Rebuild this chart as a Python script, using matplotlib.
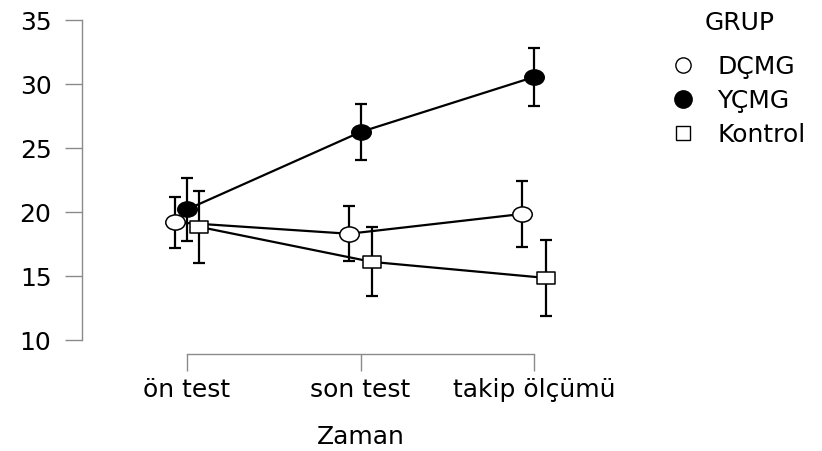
import numpy as np
import matplotlib
matplotlib.use("Agg")
import matplotlib.pyplot as plt
from matplotlib.path import Path
from matplotlib.transforms import Affine2D
from matplotlib.lines import Line2D

plt.rcParams['font.family'] = ['DejaVu Sans']

times = ['ön test', 'son test', 'takip ölçümü']
groups = ['DÇMG', 'YÇMG', 'Kontrol']

dcmg_mean = [19.2, 18.3, 19.85]
dcmg_err = [2.0, 2.15, 2.55]
ycmg_mean = [20.2, 26.25, 30.55]
ycmg_err = [2.45, 2.2, 2.3]
kontrol_mean = [18.85, 16.1, 14.85]
kontrol_err = [2.8, 2.7, 2.95]

y_ticks = [10, 15, 20, 25, 30, 35]

W, H = 822, 451
fig = plt.figure(figsize=(W / 100, H / 100), dpi=100)
left, right, bottom, top = 82, 640, 354, 10
ax = fig.add_axes([left / W, 1 - bottom / H, (right - left) / W, (bottom - top) / H])

ellipse = Path.unit_circle().transformed(Affine2D().scale(1.0, 0.78))
rect = Path.unit_rectangle().transformed(Affine2D().translate(-0.5, -0.5).scale(1.0, 0.72))

series = [
    (dcmg_mean, dcmg_err, ellipse, 'white', -0.067, 14),
    (ycmg_mean, ycmg_err, ellipse, 'black', 0.0, 14),
    (kontrol_mean, kontrol_err, rect, 'white', 0.067, 12.5),
]
x = np.arange(len(times))
for i, (m, e, mk, fc, off, ms) in enumerate(series):
    xs = x + off
    ax.errorbar(xs, m, yerr=e, fmt='none', ecolor='black', elinewidth=1.6,
                capsize=4, capthick=1.6, zorder=2)
    ax.plot(xs, m, color='black', lw=1.6, zorder=3)
    ax.plot(xs, m, linestyle='none', marker=mk, markersize=ms, markerfacecolor=fc,
            markeredgecolor='black', markeredgewidth=1.1, zorder=4 + i)

ax.set_xlim(-0.605, 2.61)
ax.set_ylim(35 - (bottom - 20) / 12.8, 35 + (20 - top) / 12.8)
ax.set_xticks(x)
ax.set_xticklabels(times)
ax.set_yticks(y_ticks)
for s in ['top', 'right']:
    ax.spines[s].set_visible(False)
grey = '#8a8a8a'
ax.spines['left'].set_bounds(10, 35)
ax.spines['bottom'].set_bounds(0, 2)
for s in ['left', 'bottom']:
    ax.spines[s].set_color(grey)
    ax.spines[s].set_linewidth(1.0)
ax.tick_params(axis='y', length=12, width=1.0, color=grey, labelsize=18, pad=10)
ax.tick_params(axis='x', length=12, width=1.0, color=grey, labelsize=18, pad=5)
ax.set_xlabel('Zaman', fontsize=18, labelpad=17)
ax.patch.set_visible(False)

handles = [
    Line2D([], [], linestyle='none', marker='o', markersize=11, markerfacecolor='white',
           markeredgecolor='black', markeredgewidth=1.0),
    Line2D([], [], linestyle='none', marker='o', markersize=12.5, markerfacecolor='black',
           markeredgecolor='black', markeredgewidth=1.0),
    Line2D([], [], linestyle='none', marker='s', markersize=10, markerfacecolor='white',
           markeredgecolor='black', markeredgewidth=1.0),
]
leg = fig.legend(handles, groups, loc='upper left',
                 bbox_to_anchor=(670.5 / W, 1 - 55 / H), frameon=False, fontsize=18,
                 borderpad=0, borderaxespad=0, handlelength=1.0, handletextpad=0.86,
                 labelspacing=0.4)
fig.text(740 / W, 1 - 23 / H, 'GRUP', fontsize=18, ha='center', va='center')

fig.savefig('out.png', dpi=100)
